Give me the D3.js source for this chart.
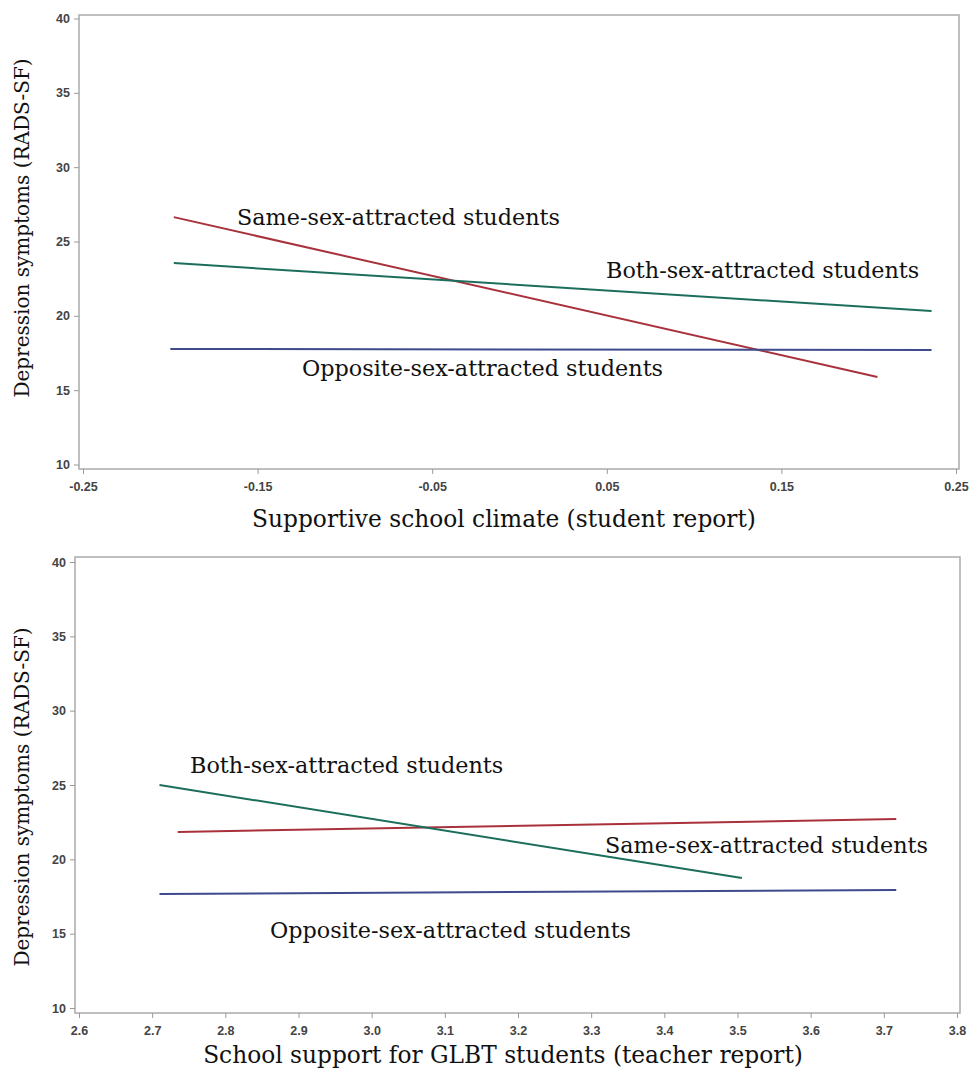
<!DOCTYPE html>
<html>
<head>
<meta charset="utf-8">
<script src="https://cdn.jsdelivr.net/npm/d3@7"></script>
<style>
  body { margin: 0; background: #fff; }
  .tick text { font-family: "Liberation Sans", Arial, sans-serif; font-size: 12.5px; font-weight: bold; fill: #444; }
  .tick line { stroke: #999; }
  .ttl { font-family: "DejaVu Serif", "Liberation Serif", serif; fill: #111; }
</style>
</head>
<body>
<div id="vis"></div>
<script>
// values
const yTicks = [10, 15, 20, 25, 30, 35, 40];
const topTicks = [-0.25, -0.15, -0.05, 0.05, 0.15, 0.25];
const bottomTicks = [2.6, 2.7, 2.8, 2.9, 3.0, 3.1, 3.2, 3.3, 3.4, 3.5, 3.6, 3.7, 3.8];

const groupNames = ["Same-sex-attracted students", "Both-sex-attracted students", "Opposite-sex-attracted students"];
const groupColors = ["#a8313c", "#1c6e5c", "#3f4a8c"];

// [x, y] end points per group
const climateSame = [[-0.198, 26.64], [0.205, 15.88]];
const climateBoth = [[-0.198, 23.55], [0.236, 20.32]];
const climateOpp = [[-0.2, 17.77], [0.236, 17.7]];

const supportSame = [[2.735, 21.84], [3.717, 22.71]];
const supportBoth = [[2.71, 25.0], [3.506, 18.74]];
const supportOpp = [[2.71, 17.67], [3.717, 17.94]];

const W = 969, H = 1074;
const svg = d3.select("#vis").append("svg").attr("width", W).attr("height", H);

const drawPanel = (cfg) => {
	const g = svg.append("g");
	const x = d3.scaleLinear().domain(cfg.xDomain).range(cfg.xRange);
	const y = d3.scaleLinear().domain([10, 40]).range(cfg.yRange);

	g.append("rect")
		.attr("x", cfg.box[0]).attr("y", cfg.box[1])
		.attr("width", cfg.box[2] - cfg.box[0]).attr("height", cfg.box[3] - cfg.box[1])
		.attr("fill", "none").attr("stroke", "#aaa").attr("stroke-width", 1.5);

	const fmt = d3.format(cfg.fmt);
	const ax = g.append("g")
		.attr("transform", `translate(0,${cfg.box[3]})`)
		.call(d3.axisBottom(x).tickValues(cfg.xTicks)
			.tickFormat(d => fmt(d).replace("\u2212", "-"))
			.tickSize(5).tickPadding(8));
	ax.select(".domain").remove();

	const ay = g.append("g")
		.attr("transform", `translate(${cfg.box[0]},0)`)
		.call(d3.axisLeft(y).tickValues(yTicks).tickSize(5).tickPadding(4));
	ay.select(".domain").remove();

	const line = d3.line().x(d => x(d[0])).y(d => y(d[1]));
	cfg.series.forEach((s, i) => {
		g.append("path").attr("d", line(s))
			.attr("fill", "none").attr("stroke", groupColors[i]).attr("stroke-width", 2);
	});

	cfg.labels.forEach((p, i) => {
		g.append("text").attr("class", "ttl")
			.attr("x", p[0]).attr("y", p[1])
			.attr("font-size", 22.3)
			.text(groupNames[i]);
	});

	g.append("text").attr("class", "ttl")
		.attr("x", cfg.xTitle[0]).attr("y", cfg.xTitle[1])
		.attr("text-anchor", "middle").attr("font-size", 23.3)
		.text(cfg.xLabel);

	g.append("text").attr("class", "ttl")
		.attr("transform", `translate(29,${cfg.yTitleY}) rotate(-90)`)
		.attr("text-anchor", "middle").attr("font-size", 20)
		.text("Depression symptoms (RADS-SF)");
};

drawPanel({
	xDomain: [-0.25, 0.25], xRange: [83, 956], yRange: [464.5, 18.5],
	box: [79, 15, 959, 469],
	xTicks: topTicks, fmt: ".2f",
	series: [climateSame, climateBoth, climateOpp],
	labels: [[237, 225], [606, 278], [302, 376]],
	xLabel: "Supportive school climate (student report)", xTitle: [504, 527],
	yTitleY: 228
});

drawPanel({
	xDomain: [2.6, 3.8], xRange: [79, 957], yRange: [1008, 562],
	box: [75, 557, 960, 1013],
	xTicks: bottomTicks, fmt: ".1f",
	series: [supportSame, supportBoth, supportOpp],
	labels: [[605, 853], [190, 773], [270, 938]],
	xLabel: "School support for GLBT students (teacher report)", xTitle: [503, 1063],
	yTitleY: 797
});
</script>
</body>
</html>
